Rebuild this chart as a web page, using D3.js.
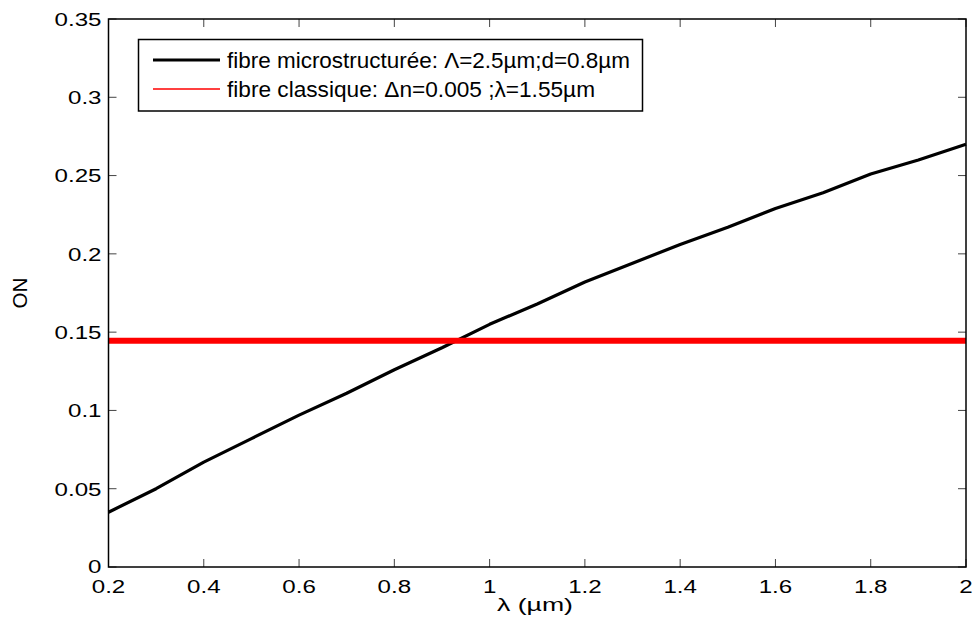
<!DOCTYPE html>
<html><head><meta charset="utf-8">
<script src="https://cdn.jsdelivr.net/npm/d3@7"></script>
<style>body{margin:0;background:#fff}svg{display:block}text{font-family:"Liberation Sans",Arial,sans-serif}</style>
</head><body><svg id="c" width="975" height="628"></svg>
<script>
const lambdaVals = [0.2,0.3,0.4,0.5,0.6,0.7,0.8,0.9,1.0,1.1,1.2,1.3,1.4,1.5,1.6,1.7,1.8,1.9,2.0];
const onMicro = [0.035,0.050,0.067,0.082,0.097,0.111,0.126,0.140,0.155,0.168,0.182,0.194,0.206,0.217,0.229,0.239,0.251,0.260,0.270];
const onClassic = 0.1445;
const xTicks = [0.2,0.4,0.6,0.8,1,1.2,1.4,1.6,1.8,2];
const yTicks = [0,0.05,0.1,0.15,0.2,0.25,0.3,0.35];
const legendLabels = ["fibre microstructurée: \u039B=2.5µm;d=0.8µm","fibre classique: \u0394n=0.005 ;\u03BB=1.55µm"];
const xLabel = "\u03BB (µm)";
const yLabel = "ON";

const L=108.5,R=966,T=19,B=567;
const svg=d3.select("#c");
const x=d3.scaleLinear().domain([0.2,2]).range([L,R]);
const y=d3.scaleLinear().domain([0,0.35]).range([B,T]);
const fs=19, sx=1.27;

function label(px,py,str,anchor,dy){
  return svg.append("text").attr("transform",`translate(${px},${py}) scale(${sx},1)`)
    .attr("text-anchor",anchor).attr("dy",dy||0).attr("font-size",fs).text(str);
}

// ticks (inward, all four sides)
const tk=8;
const g=svg.append("g");
xTicks.forEach(v=>{
  g.append("line").attr("x1",x(v)).attr("x2",x(v)).attr("y1",B).attr("y2",B-tk).attr("stroke","#444").attr("stroke-width",1);
  g.append("line").attr("x1",x(v)).attr("x2",x(v)).attr("y1",T).attr("y2",T+tk).attr("stroke","#444").attr("stroke-width",1);
  label(x(v),B+26,d3.format("")(v),"middle");
});
yTicks.forEach(v=>{
  g.append("line").attr("x1",L).attr("x2",L+tk).attr("y1",y(v)).attr("y2",y(v)).attr("stroke","#444").attr("stroke-width",1);
  g.append("line").attr("x1",R).attr("x2",R-tk).attr("y1",y(v)).attr("y2",y(v)).attr("stroke","#444").attr("stroke-width",1);
  label(L-7,y(v),d3.format("")(v),"end",v===0?"0.3em":"0.36em");
});

// data lines
const line=d3.line().x((d,i)=>x(lambdaVals[i])).y(d=>y(d));
svg.append("path").attr("d",line(onMicro)).attr("fill","none").attr("stroke","#000").attr("stroke-width",3.2).attr("stroke-linejoin","round");
svg.append("line").attr("x1",x(0.2)).attr("x2",x(2)).attr("y1",y(onClassic)).attr("y2",y(onClassic)).attr("stroke","#ff0000").attr("stroke-width",6);

// frame
svg.append("rect").attr("x",L).attr("y",T).attr("width",R-L).attr("height",B-T).attr("fill","none").attr("stroke","#000").attr("stroke-width",1.5);

// axis labels
svg.append("text").attr("x",535).attr("y",611).attr("text-anchor","middle").attr("font-size",19)
  .attr("textLength",76).attr("lengthAdjust","spacingAndGlyphs").text(xLabel);
svg.append("text").attr("transform",`translate(27,${(T+B)/2}) rotate(-90)`).attr("text-anchor","middle").attr("font-size",20.5).text(yLabel);

// legend
const lg=svg.append("g");
lg.append("rect").attr("x",138.5).attr("y",39.5).attr("width",504).attr("height",71.5).attr("fill","#fff").attr("stroke","#000").attr("stroke-width",1.5);
const ly=[60,89], lbase=[67.5,97], lw=[403,368];
lg.append("line").attr("x1",153).attr("x2",220).attr("y1",ly[0]).attr("y2",ly[0]).attr("stroke","#000").attr("stroke-width",3);
lg.append("line").attr("x1",153).attr("x2",220).attr("y1",ly[1]).attr("y2",ly[1]).attr("stroke","#ff0000").attr("stroke-width",1.6);
legendLabels.forEach((t,i)=>{
  lg.append("text").attr("x",227).attr("y",lbase[i]).attr("font-size",22)
    .attr("textLength",lw[i]).attr("lengthAdjust","spacingAndGlyphs").text(t);
});
</script></body></html>
